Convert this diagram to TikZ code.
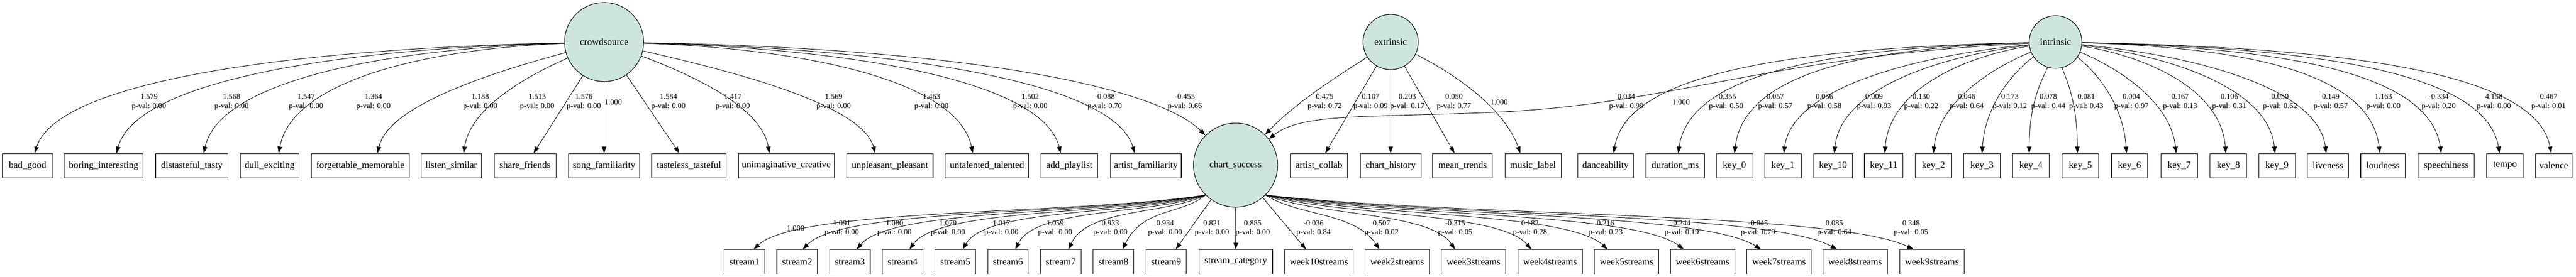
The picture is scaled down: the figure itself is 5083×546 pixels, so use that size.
\documentclass[tikz,border=0pt]{standalone}
\usepackage{fontspec}
\setmainfont{Liberation Serif}
\usetikzlibrary{arrows.meta}
\definecolor{latentfill}{RGB}{205,229,222}

\begin{document}
\begin{tikzpicture}[x=1pt,y=-1pt,
    latent/.style={circle,draw,fill=latentfill,line width=1.1pt,inner sep=0pt,font=\fontsize{18.7}{22}\selectfont},
    observed/.style={draw,line width=1.1pt,minimum height=48pt,minimum width=#1,inner sep=0pt,font=\fontsize{18.7}{22}\selectfont},
    loading/.style={-{Triangle[length=13pt,width=9pt]},line width=0.95pt},
    coef/.style={align=center,inner sep=0pt,font=\fontsize{15.3}{18}\selectfont}]
    \useasboundingbox (0,0) rectangle (5083,546);

    % Latent variables
    \node[latent,minimum size=156pt] (crowdsource) at (1192,83) {crowdsource};
    \node[latent,minimum size=109pt] (extrinsic) at (2744,83) {extrinsic};
    \node[latent,minimum size=104pt] (intrinsic) at (4056,83) {intrinsic};
    \node[latent,minimum size=166pt] (chart_success) at (2438,326) {chart\_success};

    % Indicators, upper row
    \node[observed=99pt] (bad_good) at (54.5,327) {bad\_good};
    \node[observed=155pt] (boring_interesting) at (204.5,327) {boring\_interesting};
    \node[observed=143pt] (distasteful_tasty) at (378.5,327) {distasteful\_tasty};
    \node[observed=116pt] (dull_exciting) at (532,327) {dull\_exciting};
    \node[observed=194pt] (forgettable_memorable) at (711,327) {forgettable\_memorable};
    \node[observed=119pt] (listen_similar) at (890.5,327) {listen\_similar};
    \node[observed=122pt] (share_friends) at (1036,327) {share\_friends};
    \node[observed=140pt] (song_familiarity) at (1192,327) {song\_familiarity};
    \node[observed=147pt] (tasteless_tasteful) at (1359.5,327) {tasteless\_tasteful};
    \node[observed=189pt] (unimaginative_creative) at (1551.5,327) {unimaginative\_creative};
    \node[observed=170pt] (unpleasant_pleasant) at (1756,327) {unpleasant\_pleasant};
    \node[observed=165pt] (untalented_talented) at (1947.5,327) {untalented\_talented};
    \node[observed=112pt] (add_playlist) at (2110,327) {add\_playlist};
    \node[observed=140pt] (artist_familiarity) at (2261,327) {artist\_familiarity};
    \node[observed=113pt] (artist_collab) at (2602.5,327) {artist\_collab};
    \node[observed=120pt] (chart_history) at (2744,327) {chart\_history};
    \node[observed=118pt] (mean_trends) at (2886,327) {mean\_trends};
    \node[observed=111pt] (music_label) at (3025,327) {music\_label};
    \node[observed=110pt] (danceability) at (3168,327) {danceability};
    \node[observed=115pt] (duration_ms) at (3305.5,327) {duration\_ms};
    \node[observed=72pt] (key_0) at (3422.5,327) {key\_0};
    \node[observed=72pt] (key_1) at (3518,327) {key\_1};
    \node[observed=76pt] (key_10) at (3617,327) {key\_10};
    \node[observed=76pt] (key_11) at (3717,327) {key\_11};
    \node[observed=72pt] (key_2) at (3815,327) {key\_2};
    \node[observed=72pt] (key_3) at (3911,327) {key\_3};
    \node[observed=72pt] (key_4) at (4007.5,327) {key\_4};
    \node[observed=72pt] (key_5) at (4105,327) {key\_5};
    \node[observed=72pt] (key_6) at (4202,327) {key\_6};
    \node[observed=72pt] (key_7) at (4300,327) {key\_7};
    \node[observed=72pt] (key_8) at (4397,327) {key\_8};
    \node[observed=72pt] (key_9) at (4493,327) {key\_9};
    \node[observed=81pt] (liveness) at (4593.5,327) {liveness};
    \node[observed=88pt] (loudness) at (4702,327) {loudness};
    \node[observed=111pt] (speechiness) at (4827,327) {speechiness};
    \node[observed=72pt] (tempo) at (4943,327) {tempo};
    \node[observed=72pt] (valence) at (5039,327) {valence};

    % Indicators, lower row
    \node[observed=80pt] (stream1) at (1469,517) {stream1};
    \node[observed=80pt] (stream2) at (1573,517) {stream2};
    \node[observed=80pt] (stream3) at (1677,517) {stream3};
    \node[observed=80pt] (stream4) at (1781,517) {stream4};
    \node[observed=80pt] (stream5) at (1885,517) {stream5};
    \node[observed=80pt] (stream6) at (1989,517) {stream6};
    \node[observed=80pt] (stream7) at (2093,517) {stream7};
    \node[observed=80pt] (stream8) at (2197,517) {stream8};
    \node[observed=80pt] (stream9) at (2301,517) {stream9};
    \node[observed=145pt] (stream_category) at (2438.5,517) {stream\_category};
    \node[observed=135pt] (week10streams) at (2602.5,517) {week10streams};
    \node[observed=127pt] (week2streams) at (2757,517) {week2streams};
    \node[observed=127pt] (week3streams) at (2907.5,517) {week3streams};
    \node[observed=127pt] (week4streams) at (3058.5,517) {week4streams};
    \node[observed=127pt] (week5streams) at (3209.5,517) {week5streams};
    \node[observed=127pt] (week6streams) at (3359.5,517) {week6streams};
    \node[observed=127pt] (week7streams) at (3510.5,517) {week7streams};
    \node[observed=127pt] (week8streams) at (3660.5,517) {week8streams};
    \node[observed=127pt] (week9streams) at (3812,517) {week9streams};

    % Loadings of crowdsource
    \draw[loading] (crowdsource) .. controls (574,96) and (113.5,160) .. ([xshift=14pt]bad_good.north);
    \draw[loading] (crowdsource) .. controls (663,96) and (268.5,160) .. ([xshift=25.5pt]boring_interesting.north);
    \draw[loading] (crowdsource) .. controls (757.5,96) and (433.6,160) .. ([xshift=23.5pt]distasteful_tasty.north);
    \draw[loading] (crowdsource) .. controls (839,96) and (575.7,160) .. ([xshift=18pt]dull_exciting.north);
    \draw[loading] (crowdsource) .. controls (991,138) and (767,204) .. ([xshift=34pt]forgettable_memorable.north);
    \draw[loading] (crowdsource) .. controls (1067,138) and (929,204) .. ([xshift=24.5pt]listen_similar.north);
    \draw[loading] (crowdsource) -- ([xshift=17pt]share_friends.north);
    \draw[loading] (crowdsource) -- (song_familiarity);
    \draw[loading] (crowdsource) -- ([xshift=-19pt]tasteless_tasteful.north);
    \draw[loading] (crowdsource) .. controls (1338.7,138) and (1502,204) .. ([xshift=-33.5pt]unimaginative_creative.north);
    \draw[loading] (crowdsource) .. controls (1432.75,138) and (1700,204) .. ([xshift=-29pt]unpleasant_pleasant.north);
    \draw[loading] (crowdsource) .. controls (1592,96) and (1890.5,160) .. ([xshift=-28pt]untalented_talented.north);
    \draw[loading] (crowdsource) .. controls (1687.6,96) and (2057,160) .. ([xshift=-17pt]add_playlist.north);
    \draw[loading] (crowdsource) .. controls (1768,96) and (2197,160) .. ([xshift=-22pt]artist_familiarity.north);
    \draw[loading] (crowdsource) .. controls (1900,95) and (2280,170) .. (chart_success);

    \node[coef] (c_bad_good) at (294,201.6) {1.579\\p-val: 0.00};
    \node[coef] (c_boring_interesting) at (457,201.6) {1.568\\p-val: 0.00};
    \node[coef] (c_distasteful_tasty) at (604,201.6) {1.547\\p-val: 0.00};
    \node[coef] (c_dull_exciting) at (737,201.6) {1.364\\p-val: 0.00};
    \node[coef] (c_forgettable_memorable) at (947.6,201.6) {1.188\\p-val: 0.00};
    \node[coef] (c_listen_similar) at (1060,201.6) {1.513\\p-val: 0.00};
    \node[coef] (c_share_friends) at (1152,201.6) {1.576\\p-val: 0.00};
    \node[coef] (c_song_familiarity) at (1210,202) {1.000};
    \node[coef] (c_tasteless_tasteful) at (1319,201.6) {1.584\\p-val: 0.00};
    \node[coef] (c_unimaginative_creative) at (1446,201.6) {1.417\\p-val: 0.00};
    \node[coef] (c_unpleasant_pleasant) at (1645,201.6) {1.569\\p-val: 0.00};
    \node[coef] (c_untalented_talented) at (1838,201.6) {1.463\\p-val: 0.00};
    \node[coef] (c_add_playlist) at (2033,201.6) {1.502\\p-val: 0.00};
    \node[coef] (c_artist_familiarity) at (2180,201.6) {-0.088\\p-val: 0.70};
    \node[coef] (c_crowd_chart) at (2338,201.6) {-0.455\\p-val: 0.66};

    % Loadings of extrinsic
    \draw[loading] (extrinsic) .. controls (2640,150) and (2560,200) .. (chart_success);
    \draw[loading] (extrinsic) -- ([xshift=12.5pt]artist_collab.north);
    \draw[loading] (extrinsic) -- (chart_history);
    \draw[loading] (extrinsic) -- ([xshift=-16pt]mean_trends.north);
    \draw[loading] (extrinsic) .. controls (2850,135) and (2965,205) .. ([xshift=-25pt]music_label.north);

    \node[coef] (c_extr_chart) at (2614,201.6) {0.475\\p-val: 0.72};
    \node[coef] (c_artist_collab) at (2704.5,201.6) {0.107\\p-val: 0.09};
    \node[coef] (c_chart_history) at (2777,201.6) {0.203\\p-val: 0.17};
    \node[coef] (c_mean_trends) at (2869,201.6) {0.050\\p-val: 0.77};
    \node[coef] (c_music_label) at (2958,202) {1.000};

    % Loadings of intrinsic
    \draw[loading] (intrinsic) .. controls (3500,110) and (3300,205) .. (2962,221) .. controls (2700,233) and (2570,222) .. (chart_success);
    \draw[loading] (intrinsic) .. controls (3533,94) and (3210,145) .. ([xshift=16pt]danceability.north);
    \draw[loading] (intrinsic) .. controls (3609,94) and (3334,145) .. ([xshift=6pt]duration_ms.north);
    \draw[loading] (intrinsic) .. controls (3676,94) and (3441.5,145) .. (key_0.north);
    \draw[loading] (intrinsic) .. controls (3788,109) and (3536,171) .. ([xshift=2pt]key_1.north);
    \draw[loading] (intrinsic) .. controls (3838,109) and (3632.6,171) .. ([xshift=2.5pt]key_10.north);
    \draw[loading] (intrinsic) .. controls (3887.5,109) and (3729,171) .. ([xshift=2pt]key_11.north);
    \draw[loading] (intrinsic) .. controls (3947.5,127) and (3827,193) .. (key_2.north);
    \draw[loading] (intrinsic) .. controls (3991,127) and (3918,193) .. (key_3.north);
    \draw[loading] (intrinsic) .. controls (4035,149) and (4004,193) .. ([xshift=-3.5pt]key_4.north);
    \draw[loading] (intrinsic) .. controls (4073,149) and (4099,193) .. ([xshift=-6pt]key_5.north);
    \draw[loading] (intrinsic) .. controls (4119,127) and (4189,193) .. ([xshift=-6pt]key_6.north);
    \draw[loading] (intrinsic) .. controls (4163,127) and (4282,193) .. ([xshift=-6pt]key_7.north);
    \draw[loading] (intrinsic) .. controls (4224,109) and (4382,171) .. ([xshift=-5pt]key_8.north);
    \draw[loading] (intrinsic) .. controls (4272.5,109) and (4476,171) .. ([xshift=-4pt]key_9.north);
    \draw[loading] (intrinsic) .. controls (4323,109) and (4574,171) .. ([xshift=-3.5pt]liveness.north);
    \draw[loading] (intrinsic) .. controls (4440,94) and (4677,145) .. ([xshift=-6pt]loudness.north);
    \draw[loading] (intrinsic) .. controls (4512.6,94) and (4794,145) .. ([xshift=-10pt]speechiness.north);
    \draw[loading] (intrinsic) .. controls (4581.6,94) and (4906,145) .. ([xshift=-11pt]tempo.north);
    \draw[loading] (intrinsic) .. controls (4643,94) and (5004.7,145) .. ([xshift=-5pt]valence.north);

    \node[coef] (c_intr_chart) at (3209,201.6) {0.034\\p-val: 0.99};
    \node[coef] (c_danceability) at (3317,202) {1.000};
    \node[coef] (c_duration_ms) at (3406,201.6) {-0.355\\p-val: 0.50};
    \node[coef] (c_key_0) at (3503,201.6) {0.057\\p-val: 0.57};
    \node[coef] (c_key_1) at (3600,201.6) {0.056\\p-val: 0.58};
    \node[coef] (c_key_10) at (3698,201.6) {0.009\\p-val: 0.93};
    \node[coef] (c_key_11) at (3791,201.6) {0.130\\p-val: 0.22};
    \node[coef] (c_key_2) at (3880.5,201.6) {0.046\\p-val: 0.64};
    \node[coef] (c_key_3) at (3966,201.6) {0.173\\p-val: 0.12};
    \node[coef] (c_key_4) at (4041.7,201.6) {0.078\\p-val: 0.44};
    \node[coef] (c_key_5) at (4116.7,201.6) {0.081\\p-val: 0.43};
    \node[coef] (c_key_6) at (4205.7,201.6) {0.004\\p-val: 0.97};
    \node[coef] (c_key_7) at (4301.7,201.6) {0.167\\p-val: 0.13};
    \node[coef] (c_key_8) at (4399,201.6) {0.106\\p-val: 0.31};
    \node[coef] (c_key_9) at (4499,201.6) {0.050\\p-val: 0.62};
    \node[coef] (c_liveness) at (4599,201.6) {0.149\\p-val: 0.57};
    \node[coef] (c_loudness) at (4703,201.6) {1.163\\p-val: 0.00};
    \node[coef] (c_speechiness) at (4812,201.6) {-0.334\\p-val: 0.20};
    \node[coef] (c_tempo) at (4921,201.6) {4.158\\p-val: 0.00};
    \node[coef] (c_valence) at (5029,201.6) {0.467\\p-val: 0.01};

    % Loadings of chart_success
    \draw[loading] (chart_success.225) .. controls (2111.4,425) and (1576,410) .. ([xshift=18pt]stream1.north);
    \draw[loading] (chart_success.225) .. controls (2140.5,425) and (1663.5,410) .. ([xshift=11pt]stream2.north);
    \draw[loading] (chart_success.225) .. controls (2172.5,425) and (1759.4,410) .. ([xshift=13.5pt]stream3.north);
    \draw[loading] (chart_success.225) .. controls (2203.6,425) and (1853,410) .. ([xshift=13.5pt]stream4.north);
    \draw[loading] (chart_success.225) .. controls (2235,425) and (1947.5,410) .. ([xshift=14.5pt]stream5.north);
    \draw[loading] (chart_success.225) .. controls (2266.4,425) and (2043.5,410) .. ([xshift=14.5pt]stream6.north);
    \draw[loading] (chart_success.225) .. controls (2297.7,425) and (2148,410) .. ([xshift=15pt]stream7.north);
    \draw[loading] (chart_success.225) .. controls (2329.8,425) and (2255,410) .. ([xshift=18pt]stream8.north);
    \draw[loading] (chart_success) -- ([xshift=19pt]stream9.north);
    \draw[loading] (chart_success) -- (stream_category);
    \draw[loading] (chart_success) -- ([xshift=-25.5pt]week10streams.north);
    \draw[loading] (chart_success.-45) .. controls (2564.5,428) and (2672,418) .. ([xshift=-35pt]week2streams.north);
    \draw[loading] (chart_success.-45) .. controls (2609,428) and (2821,418) .. ([xshift=-36.5pt]week3streams.north);
    \draw[loading] (chart_success.-45) .. controls (2654.4,428) and (2958.6,418) .. ([xshift=-37pt]week4streams.north);
    \draw[loading] (chart_success.-45) .. controls (2699.5,428) and (3091,418) .. ([xshift=-37.5pt]week5streams.north);
    \draw[loading] (chart_success.-45) .. controls (2744.7,428) and (3223.4,418) .. ([xshift=-37pt]week6streams.north);
    \draw[loading] (chart_success.-45) .. controls (2790.4,428) and (3357.6,418) .. ([xshift=-35.5pt]week7streams.north);
    \draw[loading] (chart_success.-45) .. controls (2835.4,428) and (3489.6,418) .. ([xshift=-35.5pt]week8streams.north);
    \draw[loading] (chart_success.-45) .. controls (2880.7,428) and (3622.5,418) .. ([xshift=-36pt]week9streams.north);

    \node[coef] (c_stream1) at (1570,451) {1.000};
    \node[coef] (c_stream2) at (1661,451) {1.091\\p-val: 0.00};
    \node[coef] (c_stream3) at (1765,451) {1.080\\p-val: 0.00};
    \node[coef] (c_stream4) at (1870.6,451) {1.079\\p-val: 0.00};
    \node[coef] (c_stream5) at (1976,451) {1.017\\p-val: 0.00};
    \node[coef] (c_stream6) at (2082,451) {1.059\\p-val: 0.00};
    \node[coef] (c_stream7) at (2191,451) {0.933\\p-val: 0.00};
    \node[coef] (c_stream8) at (2299,451) {0.934\\p-val: 0.00};
    \node[coef] (c_stream9) at (2391.5,451) {0.821\\p-val: 0.00};
    \node[coef] (c_stream_category) at (2472,451) {0.885\\p-val: 0.00};
    \node[coef] (c_week10streams) at (2592,451) {-0.036\\p-val: 0.84};
    \node[coef] (c_week2streams) at (2726,451) {0.507\\p-val: 0.02};
    \node[coef] (c_week3streams) at (2871.5,451) {-0.315\\p-val: 0.05};
    \node[coef] (c_week4streams) at (3019,451) {0.182\\p-val: 0.28};
    \node[coef] (c_week5streams) at (3168,451) {0.216\\p-val: 0.23};
    \node[coef] (c_week6streams) at (3318.6,451) {0.244\\p-val: 0.19};
    \node[coef] (c_week7streams) at (3469,451) {-0.045\\p-val: 0.79};
    \node[coef] (c_week8streams) at (3619.5,451) {0.085\\p-val: 0.64};
    \node[coef] (c_week9streams) at (3771,451) {0.348\\p-val: 0.05};
\end{tikzpicture}
\end{document}
